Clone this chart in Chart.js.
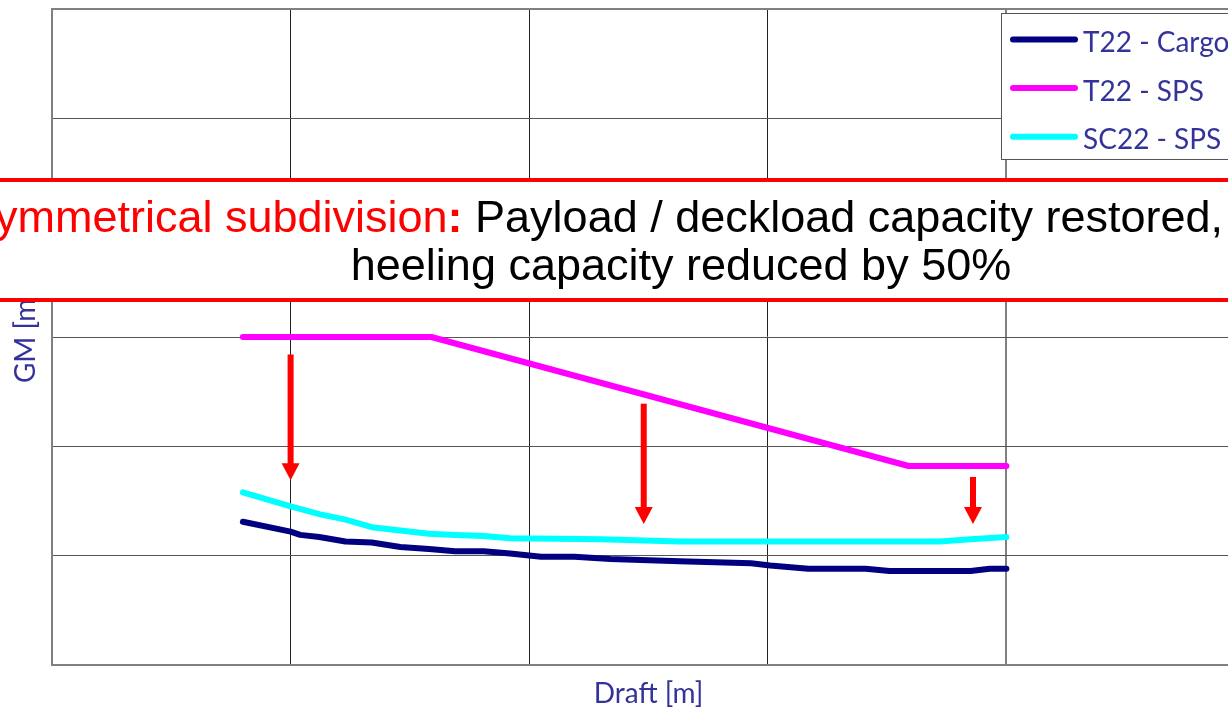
<!DOCTYPE html>
<html>
<head>
<meta charset="utf-8">
<title>GM vs Draft</title>
<script src="https://cdn.jsdelivr.net/npm/chart.js@4/dist/chart.umd.min.js"></script>
<style>
    html, body { margin: 0; padding: 0; background: #fff; overflow: hidden; }
    #wrap { width: 1260px; height: 708px; }
</style>
</head>
<body>
<div id="wrap"><canvas id="chart-gm" width="1260" height="708"></canvas></div>
<script>
// T22 - Cargo
const draftCargo = [0.80, 1.00, 1.04, 1.12, 1.23, 1.34, 1.46, 1.58, 1.69, 1.81, 1.92, 2.05, 2.19, 2.34, 2.63, 2.93, 3.01, 3.17, 3.41, 3.51, 3.85, 3.93, 4.00];
const gmCargo    = [1.31, 1.22, 1.19, 1.17, 1.13, 1.12, 1.08, 1.06, 1.04, 1.04, 1.02, 0.99, 0.99, 0.97, 0.95, 0.93, 0.91, 0.88, 0.88, 0.86, 0.86, 0.88, 0.88];

// T22 - SPS
const draftT22Sps = [0.80, 1.59, 3.59, 4.00];
const gmT22Sps    = [3.00, 3.00, 1.82, 1.82];

// SC22 - SPS
const draftSc22Sps = [0.80, 1.00, 1.12, 1.23, 1.34, 1.46, 1.58, 1.69, 1.81, 1.92, 2.30, 2.63, 3.72, 3.85, 4.00];
const gmSc22Sps    = [1.58, 1.45, 1.38, 1.33, 1.26, 1.23, 1.20, 1.19, 1.18, 1.16, 1.15, 1.13, 1.13, 1.15, 1.17];

// red arrows (draft, from GM, to GM)
const arrowDraft = [1.00, 2.48, 3.86];
const arrowFrom  = [2.84, 2.39, 1.72];
const arrowTo    = [1.69, 1.29, 1.29];

const seriesLabels = ['T22 - Cargo', 'T22 - SPS', 'SC22 - SPS'];
const seriesColors = ['#000080', '#ff00ff', '#00ffff'];

const bannerRed = 'Asymmetrical subdivision';
const bannerColon = ':';
const bannerLine1 = ' Payload / deckload capacity restored,';
const bannerLine2 = 'heeling capacity reduced by 50%';

const toPoints = (xs, ys) => xs.map((x, i) => ({ x: x, y: ys[i] }));

const overlays = {
    id: 'overlays',
    afterDraw(chart) {
        const ctx = chart.ctx;
        const xs = chart.scales.x;
        const ys = chart.scales.y;

        // arrows
        ctx.save();
        ctx.fillStyle = '#ff0000';
        arrowDraft.forEach((d, i) => {
            const px = xs.getPixelForValue(d);
            const top = ys.getPixelForValue(arrowFrom[i]);
            const tip = ys.getPixelForValue(arrowTo[i]);
            const headLen = 17, headW = 9, shaftW = 3;
            ctx.fillRect(px - shaftW, top, shaftW * 2, tip - headLen - top + 1);
            ctx.beginPath();
            ctx.moveTo(px - headW, tip - headLen);
            ctx.lineTo(px + headW, tip - headLen);
            ctx.lineTo(px, tip);
            ctx.closePath();
            ctx.fill();
        });
        ctx.restore();

        // legend box
        ctx.save();
        ctx.fillStyle = '#ffffff';
        ctx.strokeStyle = '#555555';
        ctx.lineWidth = 1;
        ctx.fillRect(1001, 13, 260, 146);
        ctx.strokeRect(1001.5, 13.5, 260, 146);
        ctx.font = '28px Lato';
        ctx.textBaseline = 'alphabetic';
        chart.data.datasets.forEach((ds, i) => {
            const y = 39.5 + i * 48.6;
            ctx.strokeStyle = ds.borderColor;
            ctx.lineWidth = 6;
            ctx.lineCap = 'round';
            ctx.beginPath();
            ctx.moveTo(1013, y);
            ctx.lineTo(1075, y);
            ctx.stroke();
            ctx.fillStyle = '#333399';
            ctx.fillText(ds.label, 1083, y + 12.5);
        });
        ctx.restore();

        // banner
        ctx.save();
        ctx.fillStyle = '#ffffff';
        ctx.fillRect(0, 180, chart.width, 120);
        ctx.fillStyle = '#ff0000';
        ctx.fillRect(0, 178, chart.width, 4);
        ctx.fillRect(0, 298, chart.width, 4);

        const reg = "45px 'Liberation Sans', Arial, sans-serif";
        const bold = "bold 45px 'Liberation Sans', Arial, sans-serif";
        ctx.textBaseline = 'alphabetic';
        ctx.font = reg;
        const wRed = ctx.measureText(bannerRed).width;
        const wRest = ctx.measureText(bannerLine1).width;
        ctx.font = bold;
        const wColon = ctx.measureText(bannerColon).width;
        let x = 1223 - (wRed + wColon + wRest);
        ctx.font = reg;
        ctx.fillStyle = '#ff0000';
        ctx.fillText(bannerRed, x, 232);
        x += wRed;
        ctx.font = bold;
        ctx.fillText(bannerColon, x, 232);
        x += wColon;
        ctx.font = reg;
        ctx.fillStyle = '#000000';
        ctx.fillText(bannerLine1, x, 232);
        ctx.textAlign = 'center';
        ctx.fillText(bannerLine2, 681, 280);
        ctx.restore();
    }
};

const ctx = document.getElementById('chart-gm');

new Chart(ctx, {
    type: 'line',
    data: {
        datasets: [
            { label: seriesLabels[0], data: toPoints(draftCargo, gmCargo), borderColor: seriesColors[0] },
            { label: seriesLabels[1], data: toPoints(draftT22Sps, gmT22Sps), borderColor: seriesColors[1] },
            { label: seriesLabels[2], data: toPoints(draftSc22Sps, gmSc22Sps), borderColor: seriesColors[2] }
        ]
    },
    options: {
        responsive: false,
        animation: false,
        layout: { padding: { top: 9, right: 15, left: 0, bottom: 0 } },
        elements: {
            line: { borderWidth: 6, tension: 0, fill: false, borderCapStyle: 'round', borderJoinStyle: 'round' },
            point: { radius: 0, hoverRadius: 0 }
        },
        plugins: {
            legend: { display: false },
            tooltip: { enabled: false }
        },
        scales: {
            x: {
                type: 'linear',
                min: 0,
                max: 5,
                afterFit(scale) { scale.height = 43; },
                ticks: { display: false, stepSize: 1 },
                grid: {
                    drawTicks: false,
                    color: c => (c.tick.value === 0 || c.tick.value === 4) ? '#808080' : '#222222',
                    lineWidth: c => (c.tick.value === 0 || c.tick.value === 4) ? 2 : 1
                },
                border: { display: true, color: '#808080', width: 2 },
                title: {
                    display: true,
                    text: 'Draft [m]',
                    color: '#333399',
                    font: { family: 'Lato', size: 28 },
                    padding: { top: 0, bottom: -3 }
                }
            },
            y: {
                type: 'linear',
                min: 0,
                max: 6,
                afterFit(scale) { scale.width = 52; },
                ticks: { display: false, stepSize: 1 },
                grid: {
                    drawTicks: false,
                    color: c => (c.tick.value === 0 || c.tick.value === 6) ? '#808080' : '#555555',
                    lineWidth: c => (c.tick.value === 0 || c.tick.value === 6) ? 2 : 1
                },
                border: { display: true, color: '#808080', width: 2 },
                title: {
                    display: true,
                    text: 'GM [m]',
                    color: '#333399',
                    font: { family: 'Lato', size: 28 },
                    padding: { top: 9, bottom: 0 }
                }
            }
        }
    },
    plugins: [overlays]
});
</script>
</body>
</html>
